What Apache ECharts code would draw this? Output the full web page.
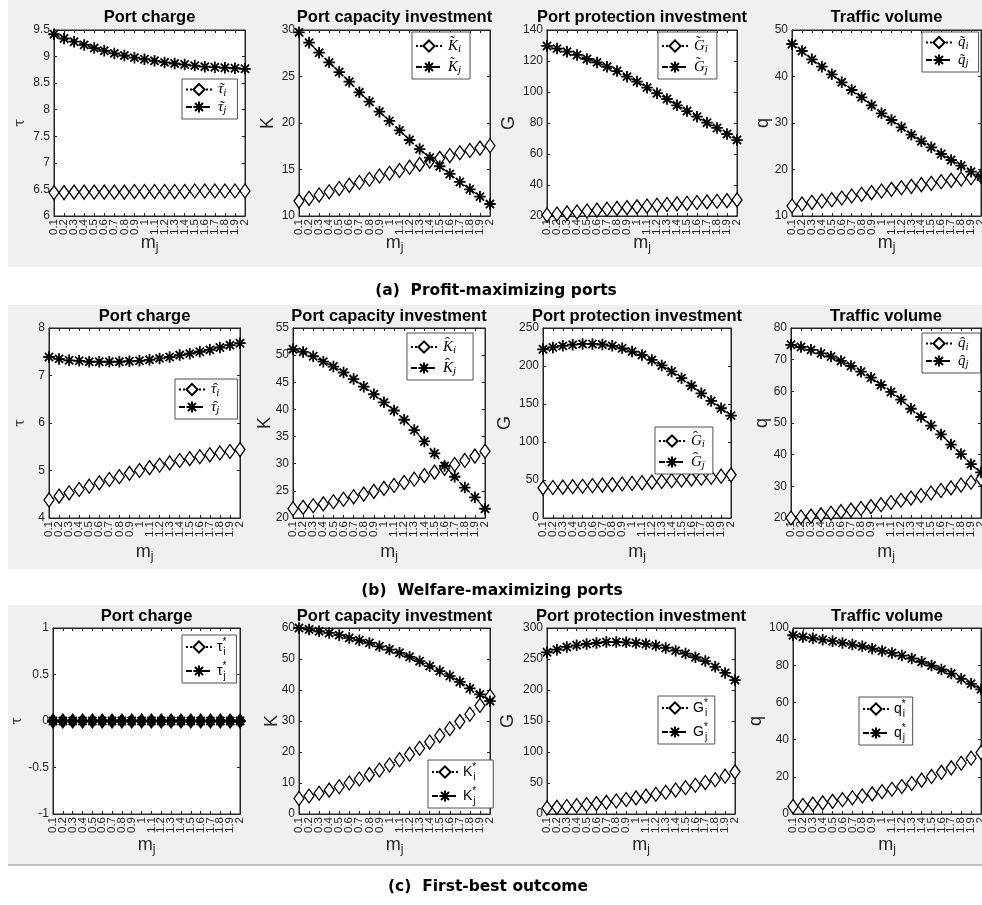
<!DOCTYPE html>
<html><head><meta charset="utf-8">
<script src="https://cdn.jsdelivr.net/npm/echarts@6/dist/echarts.min.js"></script>
<style>html,body{margin:0;padding:0;background:#fff}#c{width:982px;height:905px}</style>
</head><body><div id="c"></div>
<script>
// ---------------- DATA ----------------
const mLabels = ['0.1','0.2','0.3','0.4','0.5','0.6','0.7','0.8','0.9','1','1.1','1.2','1.3','1.4','1.5','1.6','1.7','1.8','1.9','2'];
const plotTitles = ['Port charge','Port capacity investment','Port protection investment','Traffic volume'];
const yNames = ['τ','K','G','q'];
const captions = ['(a)  Profit-maximizing ports','(b)  Welfare-maximizing ports','(c)  First-best outcome'];

// y axis ranges [min, max, interval]
const yRangesA = [[6,9.5,0.5],[10,30,5],[20,140,20],[10,50,10]];
const yRangesB = [[4,8,1],[20,55,5],[0,250,50],[20,80,10]];
const yRangesC = [[-1,1,0.5],[0,60,10],[0,300,50],[0,100,20]];

// (a) Profit-maximizing ports
const tauTildeI = [6.44,6.44,6.45,6.45,6.45,6.45,6.45,6.45,6.46,6.46,6.46,6.46,6.46,6.46,6.47,6.47,6.47,6.47,6.47,6.47];
const tauTildeJ = [9.42,9.34,9.28,9.22,9.16,9.11,9.06,9.02,8.98,8.95,8.92,8.89,8.87,8.85,8.83,8.81,8.80,8.79,8.78,8.77];
const kTildeI = [11.6,11.9,12.25,12.6,12.95,13.3,13.6,13.95,14.3,14.6,14.9,15.25,15.55,15.9,16.2,16.5,16.8,17.05,17.3,17.55];
const kTildeJ = [29.75,28.64,27.56,26.52,25.48,24.44,23.3,22.29,21.22,20.22,19.21,18.17,17.2,16.27,15.35,14.52,13.66,12.87,12.08,11.29];
const gTildeI = [20.6,21.3,22.0,22.6,23.2,23.8,24.4,24.9,25.4,25.9,26.4,26.9,27.4,27.8,28.2,28.7,29.1,29.5,29.9,30.4];
const gTildeJ = [129.7,128.0,126.0,123.9,121.3,119.1,116.3,113.5,109.9,106.7,102.8,99.2,95.5,91.4,87.7,84.1,80.2,76.8,72.9,69.0];
const qTildeI = [12.15,12.58,12.94,13.23,13.51,13.87,14.3,14.66,15.02,15.38,15.73,16.09,16.38,16.74,17.03,17.38,17.67,17.96,18.24,18.55];
const qTildeJ = [46.99,45.48,43.69,42.11,40.47,38.75,37.1,35.52,33.8,32.08,30.65,29.07,27.49,26.06,24.77,23.33,22.04,20.82,19.53,18.46];

// (b) Welfare-maximizing ports
const tauHatI = [4.38,4.46,4.53,4.60,4.67,4.74,4.81,4.87,4.94,5.00,5.06,5.11,5.16,5.21,5.25,5.29,5.33,5.37,5.40,5.44];
const tauHatJ = [7.39,7.35,7.32,7.31,7.29,7.29,7.29,7.29,7.30,7.31,7.33,7.36,7.39,7.43,7.46,7.50,7.54,7.59,7.64,7.68];
const kHatI = [21.7,21.95,22.25,22.6,23.0,23.45,23.9,24.4,24.9,25.45,26.0,26.55,27.15,27.8,28.45,29.15,29.85,30.6,31.4,32.3];
const kHatJ = [51.1,50.6,49.8,48.8,47.9,46.8,45.6,44.2,42.8,41.3,39.8,38.1,36.2,34.1,31.9,29.6,27.6,25.6,23.8,21.7];
const gHatI = [39.6,40.1,40.6,41.2,41.8,42.5,43.2,43.9,44.7,45.5,46.3,47.2,48.1,49.1,50.1,51.2,52.4,53.6,55.0,56.8];
const gHatJ = [222,224.5,226.5,228,229,229,228.3,226.5,223.3,219,214.5,208,200.7,192.8,184,174,164,154,144.4,134.7];
const qHatI = [20.0,20.3,20.6,21.0,21.5,22.0,22.5,23.0,23.6,24.2,24.9,25.6,26.3,27.1,27.9,28.7,29.5,30.4,31.3,32.3];
const qHatJ = [74.7,74.0,73.1,72.0,71.0,69.6,68.0,66.2,64.3,62.0,59.8,57.4,54.5,51.9,49.2,46.4,43.2,40.2,37.0,34.4];

// (c) First-best outcome
const tauStarI = [0,0,0,0,0,0,0,0,0,0,0,0,0,0,0,0,0,0,0,0];
const tauStarJ = [0,0,0,0,0,0,0,0,0,0,0,0,0,0,0,0,0,0,0,0];
const kStarI = [5.0,5.8,6.7,7.7,8.8,10.0,11.3,12.7,14.2,15.8,17.5,19.3,21.2,23.2,25.3,27.5,29.8,32.2,35.0,38.0];
const kStarJ = [60.0,59.5,58.95,58.4,57.7,56.8,56.05,55.2,54.1,53.05,52.0,50.7,49.3,47.7,46.1,44.5,42.6,40.5,38.6,36.4];
const gStarI = [9.6,10.7,12.0,13.4,15.0,16.8,18.8,21.0,23.4,26.0,28.8,31.8,35.1,38.6,42.4,46.4,50.7,55.3,61.0,68.0];
const gStarJ = [260.8,265.1,269.4,272.1,274.2,275.8,277.4,277.4,276.9,275.8,274.2,271.6,267.8,263.5,258.7,252.8,246.7,237.3,227.6,215.9];
const qStarI = [4.0,4.6,5.3,6.0,6.8,7.7,8.7,9.7,10.8,12.0,13.3,14.8,16.4,18.2,20.2,22.4,24.8,27.3,30.0,33.0];
const qStarJ = [96.1,95.2,94.5,93.75,92.9,92.0,91.1,90.2,88.9,87.7,86.6,85.2,83.6,81.8,79.8,77.7,75.5,72.7,70.0,67.0];

// legend labels (rich text): accent token, symbol, subscript
const TL = '{a|\u2009\u02DC}', TU = '{A|\u2009\u02DC}', HL = '{a|\u2009\u02C6}', HU = '{A|\u2009\u02C6}';
const legendA = [[TL+'{v|τ}{s|i}',TL+'{v|τ}{s|j}'],[TU+'{v|K}{s|i}',TU+'{v|K}{s|j}'],[TU+'{v|G}{s|i}',TU+'{v|G}{s|j}'],[TL+'{v|q}{s|i}',TL+'{v|q}{s|j}']];
const legendB = [[HL+'{v|τ}{s|i}',HL+'{v|τ}{s|j}'],[HU+'{v|K}{s|i}',HU+'{v|K}{s|j}'],[HU+'{v|G}{s|i}',HU+'{v|G}{s|j}'],[HL+'{v|q}{s|i}',HL+'{v|q}{s|j}']];
const legendC = [['{v|τ}{p|*}{s|i}','{v|τ}{p|*}{s|j}'],['{v|K}{p|*}{s|i}','{v|K}{p|*}{s|j}'],['{v|G}{p|*}{s|i}','{v|G}{p|*}{s|j}'],['{v|q}{p|*}{s|i}','{v|q}{p|*}{s|j}']];

// ---------------- LAYOUT ----------------
const panelData = [
  [tauTildeI,tauTildeJ],[kTildeI,kTildeJ],[gTildeI,gTildeJ],[qTildeI,qTildeJ],
  [tauHatI,tauHatJ],[kHatI,kHatJ],[gHatI,gHatJ],[qHatI,qHatJ],
  [tauStarI,tauStarJ],[kStarI,kStarJ],[gStarI,gStarJ],[qStarI,qStarJ]
];
const yRanges = yRangesA.concat(yRangesB, yRangesC);
const legendTexts = legendA.concat(legendB, legendC);
const gridsPx = [
  [54,30,191,186],[299,30,191,186],[547,30,190,186],[792,30,189,186],
  [49,328,191,190],[293,328,192,190],[543,328,188,190],[791,328,190,190],
  [53,628,187,186],[299,628,191,186],[547,628,188,186],[793,628,188,186]
];
const yNameDist = [34,31,38,29, 29,28,38,29, 36,27,39,37];
const xNameGap = [16,23,20];
const legendPos = [
  [182,79],[412,32],[658,32],[922,32],
  [175,379],[407,333],[655,427],[922,333],
  [182,635],[428,760],[658,696],[859,697]
];
const legendPadR = [11,9,9,10, 18,17,8,12, 10,17,7,7];
const titleTop = [9,308,608];
const captionTop = [283,583,879];
const captionX = [496,492,488];
const panels = [[8,0,974,267],[8,305,974,264],[8,605,974,260]];

const asterisk = 'path://M5,0L5,10M0,5L10,5M1.46,1.46L8.54,8.54M1.46,8.54L8.54,1.46';
const axisCol = '#262626';
const richTex = {
  v:{fontFamily:'Liberation Serif', fontStyle:'italic', fontSize:15, color:'#000'},
  s:{fontFamily:'Liberation Serif', fontStyle:'italic', fontSize:11, color:'#000', padding:[7,0,0,0]},
  a:{fontFamily:'Liberation Serif', fontSize:15, color:'#000', width:1},
  A:{fontFamily:'Liberation Serif', fontSize:15, color:'#000', width:1, padding:[0,0,7,0]}
};
const richStar = {
  v:{fontFamily:'Liberation Sans', fontSize:14, color:'#000'},
  p:{fontFamily:'Liberation Sans', fontSize:10, color:'#000', padding:[0,0,10,0], width:1},
  s:{fontFamily:'Liberation Sans', fontSize:10, color:'#000', padding:[10,0,0,0]}
};

const grid=[], xAxis=[], yAxis=[], series=[], legend=[], title=[];
const labelMap = {};
for (let k=0;k<12;k++){
  const r = Math.floor(k/4), c = k%4;
  const g = gridsPx[k], yr = yRanges[k];
  grid.push({left:g[0], top:g[1], width:g[2], height:g[3], show:true, backgroundColor:'#fff',
    borderColor:axisCol, borderWidth:1, containLabel:false, outerBoundsMode:'none'});
  const tick = {show:true, inside:true, length:3, lineStyle:{color:axisCol, width:1}};
  xAxis.push({type:'category', gridIndex:k, data:mLabels, boundaryGap:false, position:'bottom',
    axisLine:{show:true, onZero:false, lineStyle:{color:axisCol, width:1}},
    axisTick:Object.assign({interval:0}, tick),
    axisLabel:{show:true, interval:0, rotate:90, margin:3, fontSize:11.5, fontFamily:'Liberation Sans', color:axisCol, hideOverlap:false},
    splitLine:{show:false},
    name:'{m|m}{j|j}', nameLocation:'middle', nameGap:xNameGap[r], nameMoveOverlap:false,
    nameTextStyle:{rich:{
      m:{fontFamily:'Liberation Sans', fontSize:18, color:axisCol},
      j:{fontFamily:'Liberation Sans', fontSize:12, color:axisCol, padding:[10,0,0,0]}
    }}
  });
  xAxis.push({type:'category', gridIndex:k, data:mLabels, boundaryGap:false, position:'top',
    axisLine:{show:true, onZero:false, lineStyle:{color:axisCol, width:1}},
    axisTick:Object.assign({interval:0}, tick), axisLabel:{show:false}, splitLine:{show:false}});
  const isTau = c===0;
  const nameFs = isTau ? 14 : 18;
  yAxis.push({type:'value', gridIndex:k, min:yr[0], max:yr[1], interval:yr[2], position:'left',
    axisLine:{show:true, onZero:false, lineStyle:{color:axisCol, width:1}},
    axisTick:tick,
    axisLabel:{show:true, margin:4, fontSize:12, fontFamily:'Liberation Sans', color:axisCol},
    splitLine:{show:false},
    name:yNames[c], nameLocation:'middle', nameRotate:90, nameMoveOverlap:false,
    nameGap: yNameDist[k] - nameFs/2,
    nameTextStyle:{fontFamily: isTau ? 'DejaVu Serif' : 'Liberation Sans', fontSize:nameFs, color:axisCol}
  });
  yAxis.push({type:'value', gridIndex:k, min:yr[0], max:yr[1], interval:yr[2], position:'right',
    axisLine:{show:true, onZero:false, lineStyle:{color:axisCol, width:1}},
    axisTick:tick, axisLabel:{show:false}, splitLine:{show:false}});
  const ni = 'p'+k+'i', nj = 'p'+k+'j';
  labelMap[ni] = legendTexts[k][0];
  labelMap[nj] = legendTexts[k][1];
  // in the first-best port-charge panel both series coincide at 0 and the
  // overlaid asterisks render the diamonds solid black
  const solid = (k===8);
  series.push({type:'line', name:ni, xAxisIndex:2*k, yAxisIndex:2*k, data:panelData[k][0],
    symbol:'diamond', symbolSize:[10,14], showSymbol:true, showAllSymbol:true, clip:false, silent:true,
    lineStyle:{color:'#000', width:1, type:'dotted'},
    itemStyle:{color: solid ? '#000' : '#fff', borderColor:'#000', borderWidth:1.3}, z:3, emphasis:{disabled:true}});
  series.push({type:'line', name:nj, xAxisIndex:2*k, yAxisIndex:2*k, data:panelData[k][1],
    symbol:asterisk, symbolSize:11.5, showSymbol:true, showAllSymbol:true, clip:false, silent:true,
    lineStyle:{color:'#000', width:1.2, type:[6,3]},
    itemStyle:{color:'#000', borderColor:'#000', borderWidth:1.8}, z:4, emphasis:{disabled:true}});
  const lg = {show:true, orient:'vertical', left:legendPos[k][0], top:legendPos[k][1], data:[ni,nj],
    selectedMode:false, backgroundColor:'#fff', borderColor:axisCol, borderWidth:0.8, borderRadius:0,
    padding: r===2 ? [2,legendPadR[k],2,3] : [3,legendPadR[k],3,3], itemGap: r===2 ? 4 : 1, itemWidth:26, itemHeight:14,
    formatter: (n)=>labelMap[n],
    textStyle:{color:'#000', rich: r===2 ? richStar : richTex}};
  if (solid) lg.itemStyle = {color:'#fff'};
  legend.push(lg);
  title.push({text:plotTitles[c], left:g[0]+g[2]/2, top:titleTop[r], textAlign:'center', padding:0,
    textStyle:{fontFamily:'Liberation Sans', fontWeight:'bold', fontSize:16.5, color:'#000'}});
}
for (let r=0;r<3;r++){
  title.push({text:captions[r], left:captionX[r], top:captionTop[r], textAlign:'center', padding:0,
    textStyle:{fontFamily:'DejaVu Sans', fontWeight:'bold', fontSize:15.5, color:'#000'}});
}
const graphic = panels.map(p=>({type:'rect', z:-100, silent:true, shape:{x:p[0],y:p[1],width:p[2],height:p[3]}, style:{fill:'#f0f0f0'}}));
graphic.push({type:'line', z:-99, silent:true, shape:{x1:8,y1:865,x2:982,y2:865}, style:{stroke:'#8a8a8a', lineWidth:1}});

const chart = echarts.init(document.getElementById('c'), null, {renderer:'canvas', width:982, height:905});
chart.setOption({
  animation:false,
  backgroundColor:'#fff',
  textStyle:{fontFamily:'Liberation Sans'},
  graphic: graphic,
  title: title, grid: grid, xAxis: xAxis, yAxis: yAxis, legend: legend, series: series
});
</script></body></html>
